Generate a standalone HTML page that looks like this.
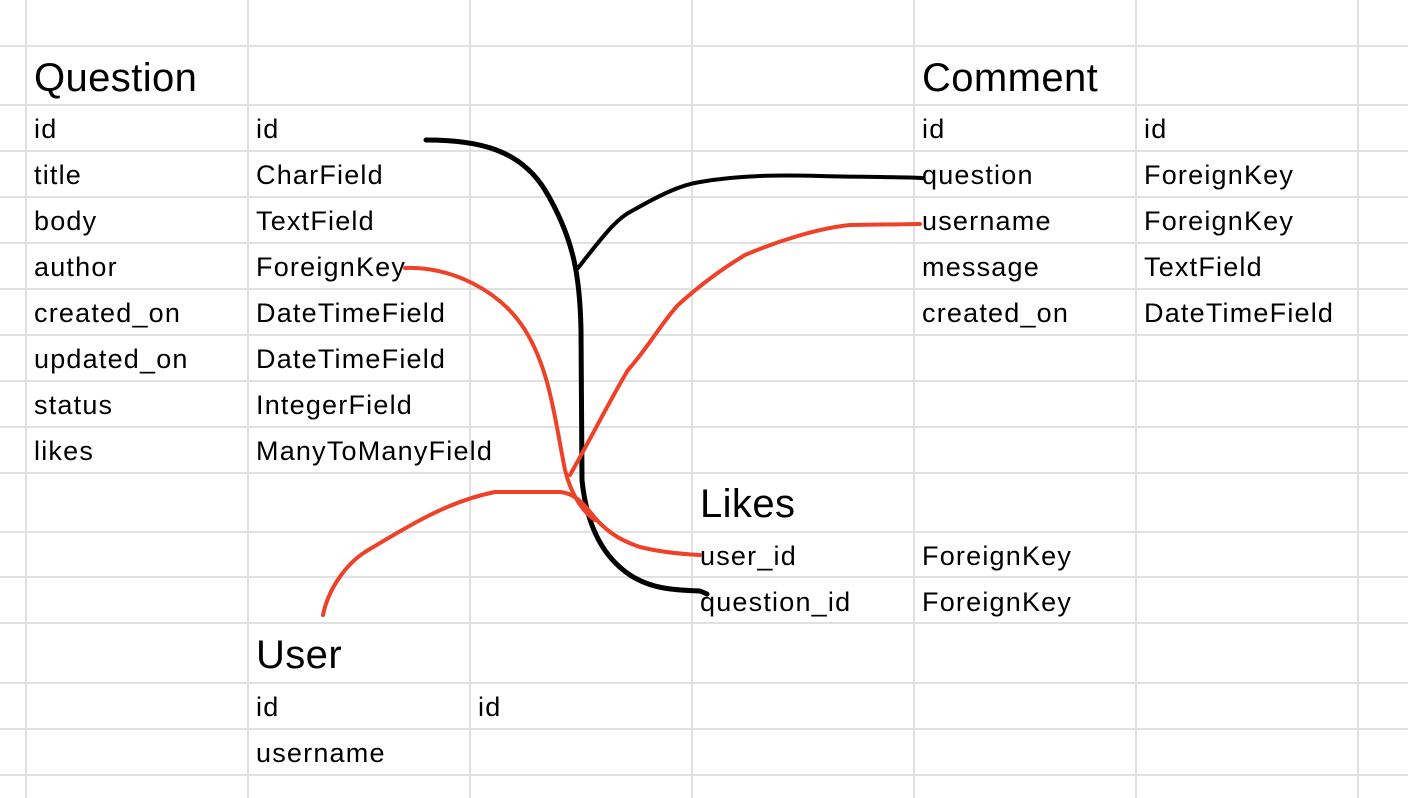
<!DOCTYPE html>
<html><head><meta charset="utf-8"><style>
html,body{margin:0;padding:0;background:#fff;}
svg{display:block;}
text{font-family:"Liberation Sans",Arial,sans-serif;fill:#000;}
.t{font-size:27px;letter-spacing:1.2px;}
.h{font-size:40px;letter-spacing:0.4px;}
</style></head><body>
<svg width="1408" height="798" viewBox="0 0 1408 798" xmlns="http://www.w3.org/2000/svg">
<g stroke="#e1e1e1" stroke-width="2">
<line x1="26" y1="0" x2="26" y2="798"/><line x1="248" y1="0" x2="248" y2="798"/><line x1="470" y1="0" x2="470" y2="798"/><line x1="692" y1="0" x2="692" y2="798"/><line x1="914" y1="0" x2="914" y2="798"/><line x1="1136" y1="0" x2="1136" y2="798"/><line x1="1358" y1="0" x2="1358" y2="798"/>
<line x1="0" y1="46" x2="1408" y2="46"/><line x1="0" y1="105" x2="1408" y2="105"/><line x1="0" y1="151" x2="1408" y2="151"/><line x1="0" y1="197" x2="1408" y2="197"/><line x1="0" y1="243" x2="1408" y2="243"/><line x1="0" y1="289" x2="1408" y2="289"/><line x1="0" y1="335" x2="1408" y2="335"/><line x1="0" y1="381" x2="1408" y2="381"/><line x1="0" y1="427" x2="1408" y2="427"/><line x1="0" y1="473" x2="1408" y2="473"/><line x1="0" y1="532" x2="1408" y2="532"/><line x1="0" y1="577" x2="1408" y2="577"/><line x1="0" y1="623" x2="1408" y2="623"/><line x1="0" y1="683" x2="1408" y2="683"/><line x1="0" y1="729" x2="1408" y2="729"/><line x1="0" y1="775" x2="1408" y2="775"/>
</g>
<text class="h" x="34" y="91">Question</text>
<text class="t" x="34" y="138">id</text><text class="t" x="256" y="138">id</text>
<text class="t" x="34" y="184">title</text><text class="t" x="256" y="184">CharField</text>
<text class="t" x="34" y="230">body</text><text class="t" x="256" y="230">TextField</text>
<text class="t" x="34" y="276">author</text><text class="t" x="256" y="276">ForeignKey</text>
<text class="t" x="34" y="322">created_on</text><text class="t" x="256" y="322">DateTimeField</text>
<text class="t" x="34" y="368">updated_on</text><text class="t" x="256" y="368">DateTimeField</text>
<text class="t" x="34" y="414">status</text><text class="t" x="256" y="414">IntegerField</text>
<text class="t" x="34" y="460">likes</text><text class="t" x="256" y="460">ManyToManyField</text>
<text class="h" x="922" y="91">Comment</text>
<text class="t" x="922" y="138">id</text><text class="t" x="1144" y="138">id</text>
<text class="t" x="922" y="184">question</text><text class="t" x="1144" y="184">ForeignKey</text>
<text class="t" x="922" y="230">username</text><text class="t" x="1144" y="230">ForeignKey</text>
<text class="t" x="922" y="276">message</text><text class="t" x="1144" y="276">TextField</text>
<text class="t" x="922" y="322">created_on</text><text class="t" x="1144" y="322">DateTimeField</text>
<text class="h" x="700" y="517">Likes</text>
<text class="t" x="700" y="565">user_id</text><text class="t" x="922" y="565">ForeignKey</text>
<text class="t" x="700" y="611">question_id</text><text class="t" x="922" y="611">ForeignKey</text>
<text class="h" x="256" y="668">User</text>
<text class="t" x="256" y="716">id</text><text class="t" x="478" y="716">id</text>
<text class="t" x="256" y="762">username</text>
<g fill="none" stroke-width="4" stroke-linecap="round" stroke-linejoin="round">
<path stroke="#000" stroke-width="5" d="M426 140 C480 140 520 150 545 190 C575 240 580 280 581 330 L582 480 C586 520 600 555 630 575 C650 588 670 590 700 591 L707 594"/>
<path stroke="#000" d="M578 268 C600 240 615 220 630 212 C660 195 680 185 700 182 C740 175 780 175 820 176 C860 177 900 177 922 178"/>
<path stroke="#ee4128" d="M405 268 C450 266 500 290 525 330 C550 370 555 420 565 470 C570 490 580 510 595 520"/>
<path stroke="#ee4128" d="M570 475 C590 440 610 400 628 370 C650 345 660 325 678 305 C700 285 720 270 745 255 C780 240 820 228 850 225 L920 224"/>
<path stroke="#ee4128" d="M323 615 C328 590 345 565 365 552 C390 537 410 525 430 515 C450 505 470 497 495 492 L560 492 C575 493 585 505 595 518 C610 535 625 542 640 547 C660 552 680 554 700 555"/>
</g>
</svg>
</body></html>
